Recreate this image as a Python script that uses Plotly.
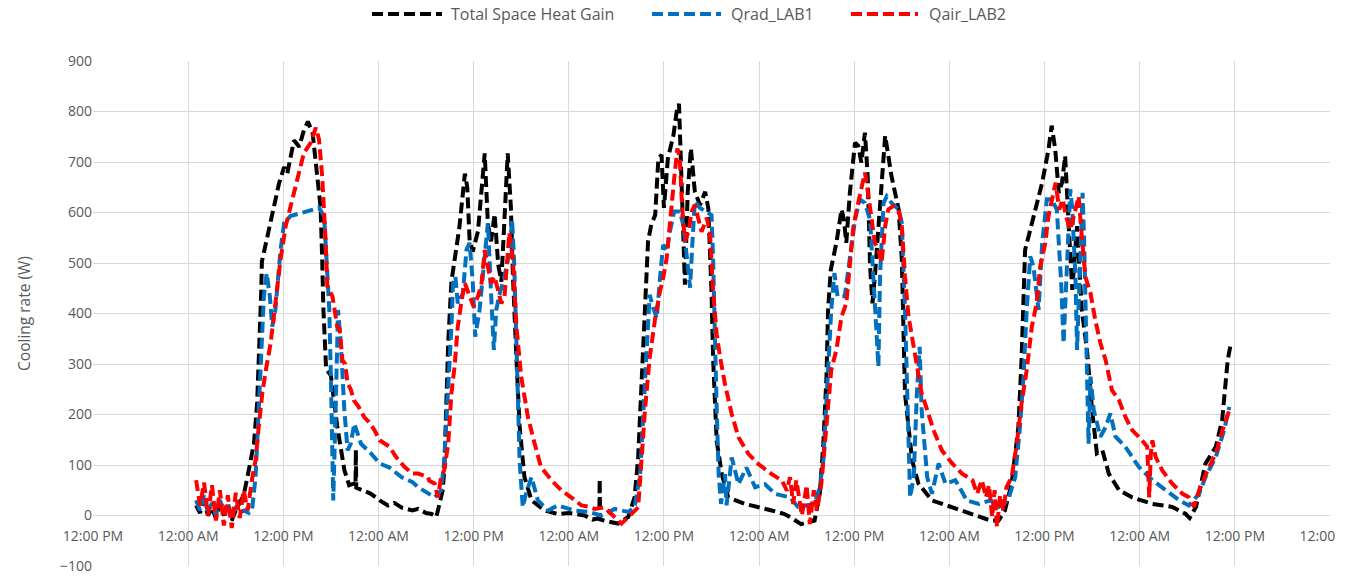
import pandas as pd
import plotly.graph_objects as go

# hours since 12:00 AM of the first night (day 1 midnight)
total_h = [1.0, 1.5, 2.0, 2.5, 3.0, 3.5, 4.0, 4.5, 5.0, 5.5, 6.0, 6.5, 7.0, 7.65,
           8.3, 8.7, 9.05, 9.2, 9.3, 9.97, 10.6, 11.45, 12.1, 12.5, 13.35, 14.0, 14.6, 15.1, 15.7,
           16.3, 16.7, 16.9, 17.05, 17.4, 18.0, 18.8, 19.7, 20.3, 20.9, 21.1, 21.15, 21.2, 22.0,
           23.05, 24.15, 25.2, 26.0, 27.0, 28.3, 29.0, 30.0, 30.7, 31.3, 31.7, 32.1, 32.3, 32.55,
           32.8, 33.2, 33.8, 34.2, 34.9, 35.2, 35.5, 35.9, 36.55, 37.0, 37.4, 37.8, 38.2, 38.65,
           39.1, 39.5, 39.9, 40.3, 40.7, 40.95, 41.4, 41.8, 42.4, 43.3, 44.95, 46.6, 48.0, 50.0,
           51.0, 51.85, 51.9, 51.95, 53.0, 54.2, 55.5, 56.3, 56.75, 57.2, 57.6, 58.0, 58.4, 58.9,
           59.3, 59.7, 60.0, 60.5, 61.2, 61.6, 61.9, 62.15, 62.45, 62.65, 63.0, 63.4, 63.9, 64.55,
           65.2, 65.6, 66.0, 66.2, 66.65, 67.3, 68.1, 70.2, 73.6, 75.2, 75.9, 77.3, 79.0, 79.65,
           80.1, 80.5, 80.7, 81.05, 81.75, 82.4, 82.7, 83.0, 83.45, 84.1, 84.5, 84.9, 85.35, 85.7,
           86.0, 86.3, 86.6, 87.25, 87.9, 88.7, 89.6, 90.0, 90.4, 91.3, 92.1, 93.8, 96.3, 98.9,
           101.2, 102.2, 103.0, 103.85, 104.7, 105.1, 105.55, 106.2, 106.8, 107.7, 108.5, 108.9,
           109.35, 109.8, 110.2, 110.6, 111.05, 111.5, 112.1, 112.7, 113.35, 114.0, 114.6, 115.3,
           116.1, 117.4, 119.05, 121.6, 124.1, 125.8, 126.3, 127.1, 128.3, 129.6, 130.4, 131.1, 131.5]
total_w = [20, 5, 30, 0, 15, -5, 20, 0, 25, -10, 10, 25, 40, 90,
           143, 223, 343, 437, 503, 550, 590, 657, 690, 677, 743, 730, 763, 780, 757,
           677, 610, 510, 410, 290, 277, 177, 90, 60, 63, 60, 130, 55, 50,
           43, 30, 20, 25, 15, 10, 13, 5, 3, -3, 23, 50, 90, 210,
           343, 463, 530, 570, 677, 650, 543, 523, 563, 643, 717, 577, 543, 597,
           497, 463, 577, 717, 610, 477, 310, 177, 77, 30, 10, 3, 5, 0,
           -8, -5, 72, -8, -12, -16, -3, 36, 115, 280, 411, 543, 576, 595,
           707, 714, 609, 707, 753, 799, 815, 707, 530, 457, 641, 727, 641, 615,
           641, 608, 444, 312, 148, 82, 36, 23, 10, 3, -3, -17, -10, 43,
           142, 275, 407, 487, 540, 606, 586, 540, 639, 738, 732, 699, 758, 672,
           493, 420, 473, 606, 752, 672, 606, 507, 242, 109, 63, 30, 17, 3,
           -10, -10, 10, 63, 175, 308, 526, 566, 606, 659, 725, 772,
           725, 639, 659, 712, 573, 447, 573, 407, 328, 209, 123, 129,
           83, 50, 36, 23, 17, 3, -5, 17, 103, 136, 189, 308, 341]

rad_h = [1.0, 1.5, 2.0, 2.5, 3.0, 3.5, 4.0, 4.5, 5.0, 5.5, 6.0, 6.5, 7.0, 7.65, 8.05,
         8.5, 8.9, 9.35, 9.55, 9.9, 10.3, 10.6, 11.0, 11.65, 12.1, 12.9, 14.2, 15.45, 16.5,
         17.15, 17.5, 17.8, 18.0, 18.1, 18.3, 18.6, 18.9, 19.25, 19.7, 20.1, 20.5, 20.95, 21.8,
         23.05, 24.15, 25.4, 26.9, 28.3, 29.0, 31.1, 31.3, 31.9, 32.3, 32.8, 33.2, 33.4, 33.7,
         34.0, 34.65, 35.1, 35.5, 35.9, 36.2, 36.75, 37.4, 37.8, 38.2, 38.55, 38.85, 39.3, 39.9,
         40.55, 40.85, 41.1, 41.4, 41.6, 41.8, 42.2, 42.6, 43.3, 44.1, 45.4, 46.6, 48.7, 50.6,
         52.1, 53.8, 55.5, 56.3, 57.0, 57.4, 57.8, 58.2, 58.65, 59.1, 59.5, 59.9, 60.35, 60.75,
         61.3, 62.0, 62.45, 62.85, 63.3, 63.6, 63.9, 64.55, 65.2, 66.0, 66.2, 66.35, 66.65, 66.9,
         67.2, 67.7, 67.9, 68.55, 69.4, 70.4, 71.5, 72.75, 74.0, 75.9, 76.9, 79.0, 79.65, 80.1,
         80.7, 81.1, 81.5, 81.9, 82.8, 83.45, 84.1, 84.7, 85.35, 86.0, 86.4, 86.7, 87.05, 87.25,
         87.7, 88.1, 88.7, 89.6, 90.0, 90.4, 90.8, 91.05, 91.5, 91.9, 92.25, 92.5, 93.2, 93.8,
         94.65, 95.5, 96.75, 98.2, 99.7, 101.2, 102.2, 103.4, 104.3, 104.9, 105.35, 105.75, 106.2,
         106.6, 107.25, 107.7, 108.3, 108.9, 109.55, 110.1, 110.4, 110.8, 111.25, 111.5, 111.9,
         112.1, 112.5, 112.8, 113.0, 113.35, 113.55, 113.8, 114.2, 115.05, 115.7, 116.3, 116.95,
         118.2, 119.9, 121.6, 123.3, 125.0, 126.2, 127.5, 128.3, 129.6, 130.65, 131.3]
rad_w = [30, 10, 40, 5, 25, 0, 30, 10, 20, 0, 15, 5, 10, 5, 10,
         76, 209, 341, 434, 480, 434, 374, 407, 526, 579, 593, 599, 606, 609,
         593, 507, 407, 275, 142, 30, 209, 407, 341, 209, 129, 142, 182, 142,
         123, 103, 95, 76, 66, 56, 36, 40, 50, 109, 242, 374, 460, 473,
         420, 440, 526, 540, 460, 354, 407, 526, 579, 440, 328, 407, 440, 473,
         526, 586, 507, 341, 209, 109, 17, 43, 76, 30, 10, 20, 10, 7,
         0, 13, 7, 16, 82, 214, 345, 437, 411, 391, 470, 536, 523, 562,
         602, 602, 576, 510, 451, 543, 622, 609, 602, 595, 510, 378, 214, 82,
         23, 82, 20, 115, 62, 95, 56, 62, 43, 36, 17, 23, 56, 109,
         275, 407, 480, 434, 434, 507, 586, 626, 619, 586, 487, 407, 295, 473,
         619, 632, 619, 606, 579, 407, 142, 36, 76, 242, 334, 209, 76, 43,
         103, 63, 70, 30, 23, 30, 17, 30, 76, 175, 275, 407, 513,
         493, 407, 540, 626, 626, 606, 460, 341, 473, 646, 606, 473,
         328, 507, 639, 540, 275, 142, 275, 209, 156, 175, 202, 156,
         136, 96, 70, 50, 30, 20, 43, 76, 116, 169, 215]

air_h = [1.0, 1.5, 2.0, 2.5, 3.0, 3.5, 4.0, 4.5, 5.0, 5.5, 6.0, 6.5, 7.0, 7.5, 8.1,
         8.5, 8.9, 9.35, 9.8, 10.4, 11.0, 11.65, 12.3, 12.9, 13.8, 14.6, 15.45, 16.1, 16.5,
         16.9, 17.35, 17.55, 18.2, 18.8, 19.1, 19.45, 19.8, 20.1, 20.5, 20.9, 21.5, 22.2, 22.8,
         23.5, 24.15, 25.4, 26.2, 27.3, 28.3, 29.0, 30.25, 30.4, 31.1, 31.5, 31.9, 32.3, 32.8,
         33.2, 33.6, 34.0, 34.5, 34.9, 35.5, 36.0, 36.55, 37.0, 37.4, 37.8, 38.2, 38.65, 39.1,
         39.5, 39.9, 40.25, 40.5, 40.95, 41.4, 42.0, 42.85, 43.7, 44.5, 45.8, 47.05, 48.3, 49.6,
         50.6, 51.3, 52.5, 53.8, 54.65, 55.9, 56.75, 57.2, 57.6, 58.2, 58.9, 59.5, 59.9, 60.35,
         60.9, 61.3, 61.7, 62.0, 62.3, 62.65, 63.1, 63.5, 63.9, 64.35, 64.75, 65.4, 65.8, 66.2,
         66.65, 67.1, 67.7, 68.55, 69.4, 70.65, 71.9, 73.6, 74.9, 75.5, 75.9, 76.3, 76.7, 77.4,
         78.0, 78.4, 78.9, 79.3, 79.85, 80.3, 80.7, 81.1, 81.75, 82.4, 83.0, 83.45, 83.9, 84.5,
         84.9, 85.35, 85.8, 86.2, 86.6, 87.05, 87.45, 87.9, 88.3, 88.95, 89.6, 90.0, 90.4, 90.85,
         91.3, 91.9, 92.5, 93.2, 94.0, 95.05, 96.35, 97.6, 98.9, 99.5, 100.1, 100.6, 101.0, 101.4,
         101.7, 102.0, 102.4, 102.8, 103.2, 103.85, 104.5, 105.1, 105.75, 106.4, 107.0, 107.45,
         108.1, 108.5, 108.9, 109.4, 109.85, 110.3, 110.7, 111.25, 111.7, 112.3, 112.7, 113.15,
         113.8, 114.4, 115.05, 115.7, 116.5, 117.4, 118.2, 119.05, 120.3, 120.95, 121.2, 121.4,
         121.6, 122.0, 122.85, 124.1, 125.4, 126.2, 126.85, 127.5, 128.55, 129.6, 130.45, 131.3]
air_w = [70, 20, 65, 0, 60, -10, 50, -20, 40, -25, 45, -5, 50, 10, 76,
         109, 175, 242, 288, 341, 420, 507, 573, 613, 672, 718, 738, 768, 745,
         672, 540, 454, 434, 374, 370, 308, 300, 262, 250, 228, 215, 195, 185,
         169, 149, 136, 116, 96, 83, 83, 76, 69, 63, 36, 76, 90, 142,
         242, 295, 374, 427, 460, 434, 414, 434, 460, 526, 493, 460, 473, 440,
         420, 434, 526, 560, 507, 374, 275, 195, 142, 96, 70, 50, 36, 20,
         17, 13, 16, -3, -16, 3, 16, 115, 207, 312, 391, 444, 470, 510,
         609, 668, 727, 707, 609, 543, 562, 602, 615, 589, 562, 589, 562, 444,
         359, 312, 260, 201, 155, 122, 102, 82, 69, 49, 76, 23, 70, 0,
         60, -17, 50, 10, 63, 142, 209, 288, 328, 394, 420, 507, 573, 619,
         652, 679, 632, 586, 540, 526, 500, 573, 606, 613, 606, 573, 473, 394,
         354, 301, 242, 209, 169, 129, 103, 83, 70, 43, 70, 36, 60, -3,
         50, -23, 40, 10, 56, 76, 142, 222, 288, 374, 420, 493,
         540, 593, 626, 659, 606, 626, 593, 566, 593, 632, 553, 473,
         440, 387, 341, 308, 248, 228, 195, 169, 149, 136, 36, 120,
         149, 116, 89, 63, 43, 36, 17, 50, 89, 123, 169, 209]

series_names = ["Total Space Heat Gain", "Qrad_LAB1", "Qair_LAB2"]
series_colors = ["#000000", "#0070C0", "#FF0000"]

y_ticks = list(range(-100, 901, 100))

base = pd.Timestamp("2019-07-01 00:00")
def to_time(hours):
    return [base + pd.Timedelta(hours=h) for h in hours]

LINE_W = 4
DASH = "11px,5px"

fig = go.Figure()
for name, color, hh, ww in zip(series_names, series_colors,
                               [total_h, rad_h, air_h], [total_w, rad_w, air_w]):
    fig.add_trace(go.Scatter(
        x=to_time(hh), y=ww, mode="lines", name=name, showlegend=False,
        line=dict(color=color, width=LINE_W, dash=DASH),
    ))

font_fam = "Open Sans, Calibri, Arial, sans-serif"
grey = "#595959"
grid = "#d9d9d9"

# page geometry (figure sits 8px in from the page corner)
FIG_W, FIG_H = 1337, 571
ML, MR, MT, MB = 85, 15, 53, 13
plot_w = FIG_W - ML - MR
plot_h = FIG_H - MT - MB

def px_to_paper_x(px):
    return (px - 8 - ML) / plot_w

def px_to_paper_y(py):
    return (FIG_H - MB - (py - 8)) / plot_h

# custom legend: (sample start, sample end, text start) in page pixels
legend_pos = [(372, 442, 449), (652, 721, 729), (851, 918, 927)]
legend_y = 14
shapes, annotations = [], []
for (x0, x1, xt), name, color in zip(legend_pos, series_names, series_colors):
    shapes.append(dict(type="line", xref="paper", yref="paper",
                       x0=px_to_paper_x(x0), x1=px_to_paper_x(x1),
                       y0=px_to_paper_y(legend_y), y1=px_to_paper_y(legend_y),
                       line=dict(color=color, width=LINE_W, dash=DASH)))
    annotations.append(dict(text=name, xref="paper", yref="paper",
                            x=px_to_paper_x(xt), y=px_to_paper_y(legend_y),
                            xanchor="left", yanchor="middle", showarrow=False,
                            font=dict(size=16, color=grey, family=font_fam)))

fig.update_layout(
    width=FIG_W, height=FIG_H,
    margin=dict(l=ML, r=MR, t=MT, b=MB, autoexpand=False),
    paper_bgcolor="white", plot_bgcolor="white",
    font=dict(family=font_fam, size=14, color=grey),
    showlegend=False,
    shapes=shapes, annotations=annotations,
    xaxis=dict(
        type="date",
        range=[base - pd.Timedelta(hours=12), base + pd.Timedelta(hours=144)],
        tick0=base - pd.Timedelta(hours=12), dtick=12 * 3600 * 1000,
        tickformat="%I:%M %p",
        showgrid=True, gridcolor=grid, gridwidth=1,
        showline=False, zeroline=False, ticks="",
        anchor="free", position=0.1,
        ticklabeloverflow="allow", ticklabelstandoff=10,
        tickfont=dict(size=14, color=grey),
    ),
    yaxis=dict(
        range=[-100, 900], tickvals=y_ticks,
        showgrid=True, gridcolor=grid, gridwidth=1,
        zeroline=False, showline=False, ticks="",
        tickfont=dict(size=14, color=grey),
        title=dict(text="Cooling rate (W)", font=dict(size=15.5, color=grey), standoff=25),
    ),
)

fig.write_html("out.html")
